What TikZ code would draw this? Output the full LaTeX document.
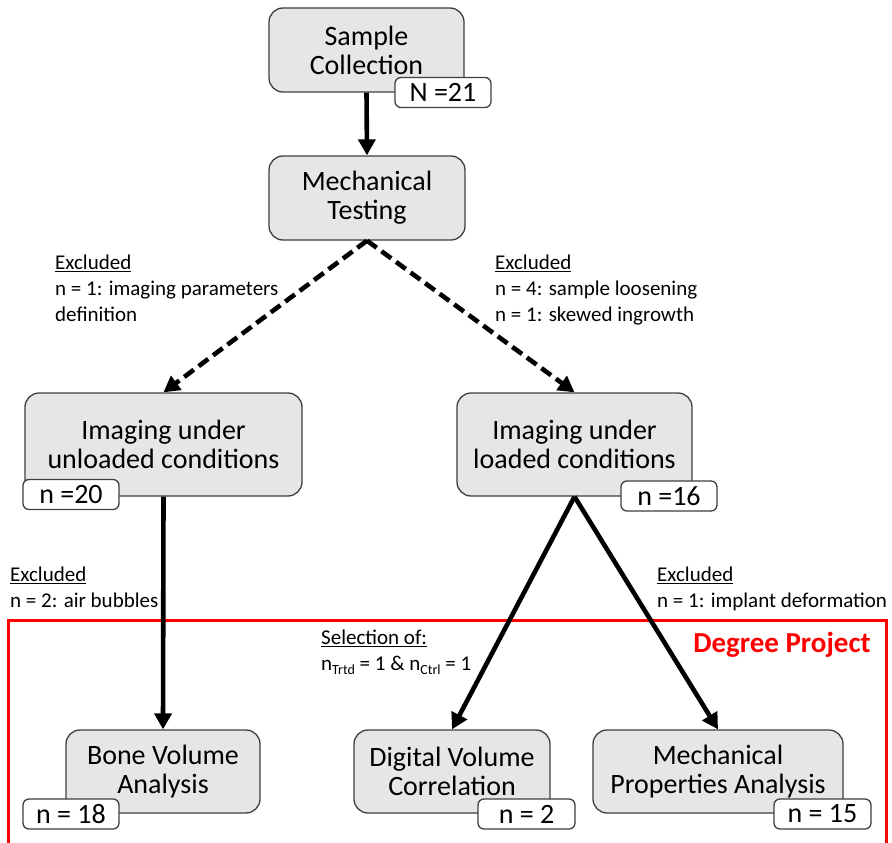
\documentclass[tikz,border=0pt]{standalone}
\usepackage{fontspec}
\setmainfont{Carlito}
\usetikzlibrary{arrows.meta}
\definecolor{boxfill}{HTML}{E6E6E6}
\definecolor{boxline}{HTML}{3F3F3F}
\definecolor{projred}{HTML}{FF0000}
\newcommand{\lowsub}[1]{\raisebox{-4pt}{\fontsize{14}{14}\selectfont #1}}
\tikzset{
  stage/.style={draw=boxline, line width=1.3pt, fill=boxfill, rounded corners=14pt,
    align=center, inner sep=0pt, font=\fontsize{28}{29}\selectfont},
  count/.style={draw=boxline, line width=1.3pt, fill=white, rounded corners=6pt,
    inner sep=0pt, minimum height=30pt, font=\fontsize{28}{29}\selectfont},
  note/.style={align=left, anchor=north west, inner sep=0pt,
    font=\fontsize{21}{26}\selectfont},
  flow/.style={line width=4.6pt, -{Triangle[length=16pt,width=17pt]}},
  skip/.style={flow, dash pattern=on 12pt off 6pt},
}
\begin{document}
\begin{tikzpicture}[x=1pt,y=-1pt]
\useasboundingbox (0,0) rectangle (892,843);
\clip (0,0) rectangle (892,843);

% Degree project frame
\draw[projred, line width=3pt] (8,620) rectangle (886,860);
\node[anchor=north east, inner sep=0pt, text=projred,
      font=\fontsize{29}{30}\selectfont\bfseries] (dp) at (871,632) {Degree Project};

% main stages
\node[stage, minimum width=195pt, minimum height=84pt] (sample) at (366.5,50) {Sample\\Collection};
\node[stage, minimum width=196pt, minimum height=84pt] (mech) at (367,198) {Mechanical\\Testing};
\node[stage, minimum width=277pt, minimum height=103pt] (unl) at (163.5,444.5) {Imaging under\\unloaded conditions};
\node[stage, minimum width=235pt, minimum height=103pt] (lod) at (574.5,444.5) {Imaging under\\loaded conditions};
\node[stage, minimum width=194pt, minimum height=83pt] (bone) at (163,771.5) {Bone Volume\\Analysis};
\node[stage, minimum width=196pt, minimum height=83pt] (dvc) at (452,771.5) {Digital Volume\\Correlation};
\node[stage, minimum width=250pt, minimum height=83pt] (mpa) at (718,771.5) {Mechanical\\Properties Analysis};

% sample counts
\node[count, minimum width=96pt] (c21) at (443,92.5) {N =21};
\node[count, minimum width=96pt] (c20) at (71,494.5) {n =20};
\node[count, minimum width=96pt] (c16) at (669,496) {n =16};
\node[count, minimum width=96pt] (c18) at (71,814) {n = 18};
\node[count, minimum width=97pt] (c2) at (526.5,814) {n = 2};
\node[count, minimum width=97pt] (c15) at (822.5,814) {n = 15};

% exclusion notes
\node[note] (ex1) at (55,255) {\underline{Excluded}\\n = 1: imaging parameters\\definition};
\node[note] (ex2) at (495,255) {\underline{Excluded}\\n = 4: sample loosening\\n = 1: skewed ingrowth};
\node[note] (ex3) at (10,567) {\underline{Excluded}\\n = 2: air bubbles};
\node[note] (ex4) at (657,567) {\underline{Excluded}\\n = 1: implant deformation};
\node[note] (sel) at (321,630) {\underline{Selection of:}\\n\lowsub{Trtd} = 1 \& n\lowsub{Ctrl} = 1};

% connectors
\draw[flow] (sample.south) -- (mech.north);
\draw[skip] (mech.south) -- (unl.north);
\draw[skip] (mech.south) -- (lod.north);
\draw[flow] (unl.south) -- (bone.north);
\draw[flow] (lod.south) -- (dvc.north);
\draw[flow] (lod.south) -- (mpa.north);
\end{tikzpicture}
\end{document}
